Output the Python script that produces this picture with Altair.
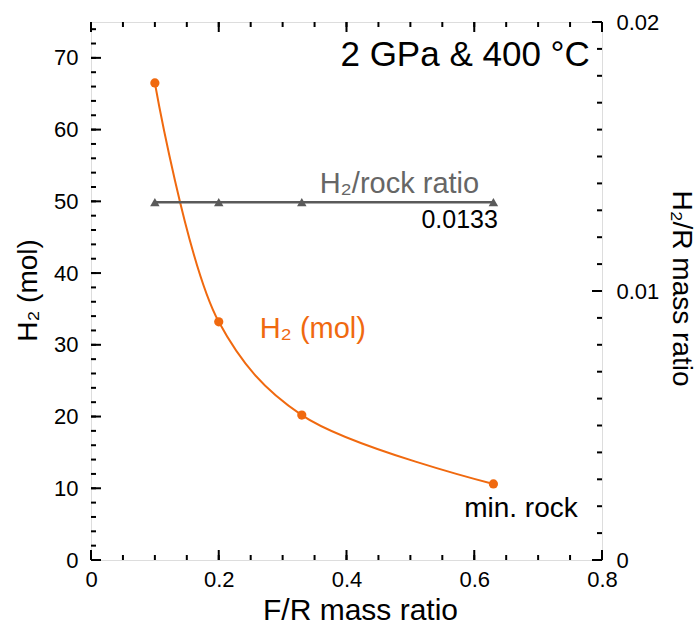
import altair as alt
import pandas as pd

# ---------------- data ----------------
fr_ratio = [0.1, 0.2, 0.33, 0.63]
h2_mol = [66.5, 33.2, 20.2, 10.6]
h2_rock_ratio = [0.0133, 0.0133, 0.0133, 0.0133]

x_major = [0, 0.2, 0.4, 0.6, 0.8]
x_minor = [0, 0.05, 0.1, 0.15, 0.2, 0.25, 0.3, 0.35, 0.4, 0.45, 0.5, 0.55, 0.6, 0.65, 0.7, 0.75, 0.8]
yl_major = [0, 10, 20, 30, 40, 50, 60, 70]
yl_minor = [0, 2, 4, 6, 8, 10, 12, 14, 16, 18, 20, 22, 24, 26, 28, 30, 32, 34, 36, 38,
            40, 42, 44, 46, 48, 50, 52, 54, 56, 58, 60, 62, 64, 66, 68, 70, 72, 74]
yr_major = [0, 0.01, 0.02]
yr_minor = [0, 0.001, 0.002, 0.003, 0.004, 0.005, 0.006, 0.007, 0.008, 0.009, 0.01,
            0.011, 0.012, 0.013, 0.014, 0.015, 0.016, 0.017, 0.018, 0.019, 0.02]

ann_text = ["2 GPa & 400 °C", "H₂/rock ratio", "0.0133", "H₂ (mol)", "min. rock"]
ann_x = [0.781, 0.358, 0.637, 0.264, 0.762]
ann_y = [68.9, 51.2, 46.3, 30.9, 6.0]

df = pd.DataFrame({"fr": fr_ratio, "h2": h2_mol, "ratio": h2_rock_ratio})

ORANGE = "#F0690F"
GRAY = "#5a5a5a"
FONT = "Liberation Sans"
W, H = 511, 538
MAJ, MIN = 10, 5

X_DOM = [0, 0.8]
YL_DOM = [0, 75]
YR_DOM = [0, 0.02]


def X(field, axis=None):
    return alt.X(field, type="quantitative",
                 scale=alt.Scale(domain=X_DOM, nice=False, zero=False), axis=axis)


def Y(field, dom, axis=None):
    return alt.Y(field, type="quantitative",
                 scale=alt.Scale(domain=dom, nice=False, zero=False), axis=axis)


base = alt.Chart(df)

# main curve with label axes
curve = base.mark_line(interpolate="catmull-rom", color=ORANGE, strokeWidth=2).encode(
    x=X("fr", alt.Axis(orient="bottom", values=x_major, format=".1~f", ticks=False,
                       domain=False, grid=False, labelFontSize=22, labelPadding=9,
                       labelColor="black", labelFont=FONT, labelFlush=False,
                       title="F/R mass ratio", titleFontSize=30, titleFont=FONT,
                       titleFontWeight="normal", titleColor="black", titleX=269,
                       titleY=59, titleBaseline="alphabetic", titleAlign="center")),
    y=Y("h2", YL_DOM, alt.Axis(orient="left", values=yl_major, format="d", ticks=False,
                               domain=False, grid=False, labelFontSize=22, labelPadding=13,
                               labelColor="black", labelFont=FONT,
                               title="H₂ (mol)", titleFontSize=28, titleFont=FONT,
                               titleFontWeight="normal", titleColor="black",
                               titleAngle=-90, titleX=-55, titleY=268,
                               titleBaseline="alphabetic", titleAlign="center")),
)

points = base.mark_circle(size=85, color=ORANGE, opacity=1).encode(
    x=X("fr"), y=Y("h2", YL_DOM))

ratio_line = base.mark_line(color=GRAY, strokeWidth=2.5).encode(
    x=X("fr"),
    y=Y("ratio", YR_DOM, alt.Axis(orient="right", values=yr_major, format=".2~f",
                                  ticks=False, domain=False, grid=False, labelFontSize=22,
                                  labelPadding=14, labelColor="black", labelFont=FONT,
                                  title="H₂/R mass ratio", titleFontSize=28, titleFont=FONT,
                                  titleFontWeight="normal", titleColor="black",
                                  titleAngle=90, titleX=70, titleY=266,
                                  titleBaseline="alphabetic", titleAlign="center")),
)

ratio_pts = base.mark_point(shape="triangle-up", filled=True, size=90, color=GRAY,
                            opacity=1).encode(x=X("fr"), y=Y("ratio", YR_DOM))

# annotations
ann_df = pd.DataFrame({"t": ann_text, "x": ann_x, "y": ann_y})
ann_styles = [
    dict(size=35, color="black", align="right"),
    dict(size=29, color="#666666", align="left"),
    dict(size=25, color="black", align="right"),
    dict(size=29, color=ORANGE, align="left"),
    dict(size=28, color="black", align="right"),
]
texts = []
for i, st in enumerate(ann_styles):
    texts.append(
        alt.Chart(ann_df.iloc[[i]]).mark_text(
            fontSize=st["size"], color=st["color"], align=st["align"],
            baseline="alphabetic", font=FONT
        ).encode(x=X("x"), y=Y("y", YL_DOM), text="t:N")
    )


# inward ticks (tick values through the scales, tick length as style)
def xticks(vals, length, side):
    d = pd.DataFrame({"v": vals})
    if side == "bottom":
        y0, y1 = H, H - length
    else:
        y0, y1 = 0, length
    return alt.Chart(d).mark_rule(color="black", strokeWidth=2).encode(
        x=X("v"), y=alt.value(y0), y2=alt.value(y1))


def yticks(vals, dom, length, side):
    d = pd.DataFrame({"v": vals})
    if side == "left":
        x0, x1 = 0, length
    else:
        x0, x1 = W, W - length
    return alt.Chart(d).mark_rule(color="black", strokeWidth=2).encode(
        y=Y("v", dom), x=alt.value(x0), x2=alt.value(x1))


tick_layers = [
    xticks(x_minor, MIN, "bottom"), xticks(x_major, MAJ, "bottom"),
    xticks(x_minor, MIN, "top"), xticks(x_major, MAJ, "top"),
    yticks(yl_minor, YL_DOM, MIN, "left"), yticks(yl_major, YL_DOM, MAJ, "left"),
    yticks(yr_minor, YR_DOM, MIN, "right"), yticks(yr_major, YR_DOM, MAJ, "right"),
]

chart = alt.layer(
    curve, points, ratio_line, ratio_pts, *texts, *tick_layers
).resolve_scale(x="independent", y="independent").resolve_axis(
    x="independent", y="independent"
).properties(
    width=W, height=H,
    padding={"left": 91, "top": 22, "right": 96, "bottom": 68},
    autosize=alt.AutoSizeParams(type="none"),
).configure_view(stroke="black", strokeWidth=2.5).configure(background="white")

chart.save("out.html", embed_options={"renderer": "svg", "actions": False})
